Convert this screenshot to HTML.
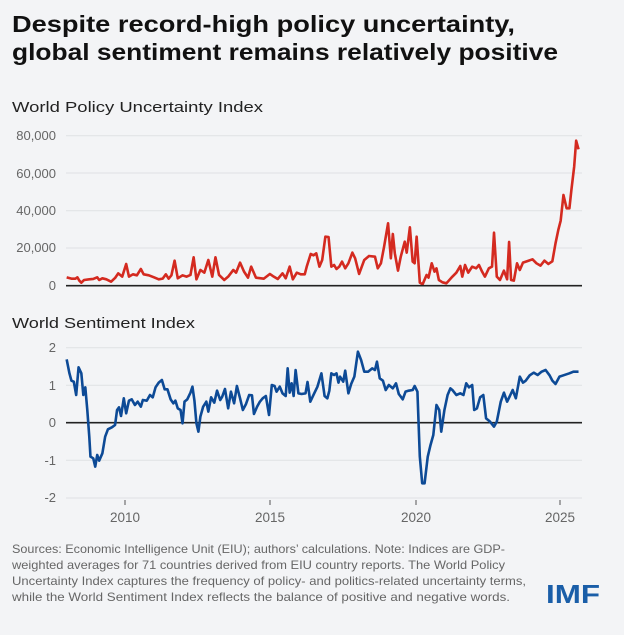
<!DOCTYPE html>
<html><head><style>
body{margin:0;background:#f3f4f6;width:624px;height:630px;overflow:hidden;font-family:"Liberation Sans",sans-serif}
</style></head><body>
<svg width="624" height="630" xmlns="http://www.w3.org/2000/svg" font-family="Liberation Sans, sans-serif">
<rect width="624" height="630" fill="#f3f4f6"/>
<text x="12" y="32" font-size="23.5" font-weight="bold" fill="#111" textLength="503" lengthAdjust="spacingAndGlyphs">Despite record-high policy uncertainty,</text>
<text x="12" y="60" font-size="23.5" font-weight="bold" fill="#111" textLength="546" lengthAdjust="spacingAndGlyphs">global sentiment remains relatively positive</text>
<text x="12" y="112" font-size="15" fill="#222" textLength="251" lengthAdjust="spacingAndGlyphs">World Policy Uncertainty Index</text>
<g stroke="#dfe1e4" stroke-width="1">
<line x1="66" x2="582" y1="135.7" y2="135.7"/><line x1="66" x2="582" y1="173" y2="173"/><line x1="66" x2="582" y1="210.7" y2="210.7"/><line x1="66" x2="582" y1="248" y2="248"/>
<line x1="66" x2="582" y1="347.7" y2="347.7"/><line x1="66" x2="582" y1="385.3" y2="385.3"/><line x1="66" x2="582" y1="460.3" y2="460.3"/><line x1="66" x2="582" y1="498" y2="498"/>
</g>
<g font-size="13" fill="#666" text-anchor="end">
<text x="56" y="140">80,000</text><text x="56" y="178">60,000</text><text x="56" y="215">40,000</text><text x="56" y="252">20,000</text><text x="56" y="290">0</text>
<text x="56" y="352">2</text><text x="56" y="390">1</text><text x="56" y="427">0</text><text x="56" y="465">-1</text><text x="56" y="502">-2</text>
</g>
<g transform="translate(0,90) scale(0.3968,0.3333)">
<polyline fill="none" stroke="#d42a20" stroke-width="2.6" vector-effect="non-scaling-stroke" stroke-linejoin="round" points="168,562 180,566 190,566 195,562 200,572 205,578 212,570 225,568 235,567 245,562 250,570 258,565 268,568 280,575 290,564 298,550 308,560 318,522 325,560 335,553 345,556 355,537 362,553 375,556 388,562 400,568 410,566 418,553 425,566 432,556 440,512 448,565 460,556 470,560 480,555 488,502 495,568 505,540 515,548 525,510 535,560 543,502 552,555 565,570 575,560 588,540 595,548 605,518 615,545 625,563 633,530 645,563 665,566 680,552 690,560 700,567 712,550 720,565 730,530 738,568 748,548 758,553 768,553 773,530 783,492 790,496 797,490 805,530 812,510 820,440 828,441 835,530 842,525 848,537 855,530 862,515 870,535 878,520 888,488 895,505 905,552 918,510 930,498 945,500 952,535 960,520 968,470 978,400 985,505 990,432 995,490 1003,542 1010,500 1020,455 1025,488 1033,412 1040,515 1045,520 1050,440 1058,578 1065,583 1075,555 1080,563 1088,520 1095,545 1100,535 1106,570 1115,577 1125,580 1140,560 1150,548 1160,528 1165,560 1172,525 1180,548 1190,530 1200,535 1207,525 1215,545 1222,560 1232,535 1240,530 1245,428 1252,560 1260,570 1270,542 1278,568 1283,456 1288,570 1295,572 1303,520 1310,540 1318,518 1330,513 1342,508 1352,520 1362,527 1372,512 1382,522 1392,514 1400,460 1407,420 1413,392 1420,315 1428,355 1435,355 1440,300 1447,230 1452,152 1458,178"/>
</g>
<line x1="66" x2="582" y1="285.7" y2="285.7" stroke="#222" stroke-width="1.6"/>
<text x="12" y="328" font-size="15" fill="#222" textLength="183" lengthAdjust="spacingAndGlyphs">World Sentiment Index</text>
<line x1="66" x2="582" y1="422.7" y2="422.7" stroke="#222" stroke-width="1.6"/>
<g transform="translate(0,310) scale(0.3968,0.3333)">
<polyline fill="none" stroke="#0d4a96" stroke-width="2.6" vector-effect="non-scaling-stroke" stroke-linejoin="round" points="168,148 175,190 180,212 186,215 192,255 198,172 205,190 210,255 215,232 220,300 225,380 228,440 235,445 240,470 245,435 250,452 258,430 265,380 272,358 282,352 290,345 295,300 300,292 305,318 312,265 318,310 325,272 332,268 340,285 347,275 355,290 360,270 370,272 378,255 385,262 392,232 400,218 408,210 415,238 422,238 430,268 437,280 442,272 448,295 455,300 460,340 465,275 472,268 480,248 485,230 490,272 495,340 500,365 505,320 512,290 520,275 525,305 532,262 540,278 547,242 555,270 560,260 567,237 575,295 582,245 590,280 597,228 605,265 612,300 620,282 628,255 635,256 640,312 648,290 655,275 662,265 670,258 678,315 685,225 692,228 697,245 705,230 712,250 720,258 725,175 730,248 735,220 740,258 745,180 752,250 760,252 770,250 775,216 782,275 790,255 800,230 810,190 818,258 825,265 830,242 835,190 842,195 848,190 853,218 857,200 865,215 870,182 878,250 885,222 893,200 902,125 910,150 918,185 928,185 938,175 945,180 950,155 957,205 965,212 972,240 980,225 990,235 998,220 1005,252 1015,268 1022,245 1030,242 1040,240 1045,228 1052,245 1058,440 1064,520 1070,520 1078,440 1085,405 1092,375 1100,285 1107,300 1112,365 1120,300 1128,255 1135,235 1140,240 1150,255 1160,250 1168,255 1175,220 1182,232 1190,225 1195,300 1202,295 1210,262 1218,255 1225,325 1235,335 1245,350 1252,335 1262,275 1270,248 1278,275 1285,258 1292,240 1300,265 1310,200 1318,218 1325,212 1335,196 1345,188 1355,195 1365,185 1375,180 1385,196 1392,212 1400,222 1410,200 1420,196 1435,190 1445,185 1458,185"/>
</g>
<g stroke="#555" stroke-width="1"><line x1="125" x2="125" y1="500" y2="505"/><line x1="270" x2="270" y1="500" y2="505"/><line x1="416" x2="416" y1="500" y2="505"/><line x1="560" x2="560" y1="500" y2="505"/></g>
<g font-size="13.5" fill="#666" text-anchor="middle"><text x="125" y="522">2010</text><text x="270" y="522">2015</text><text x="416" y="522">2020</text><text x="560" y="522">2025</text></g>
<g font-size="12" fill="#666" lengthAdjust="spacingAndGlyphs">
<text x="12" y="553" textLength="493" lengthAdjust="spacingAndGlyphs">Sources: Economic Intelligence Unit (EIU); authors’ calculations. Note: Indices are GDP-</text>
<text x="12" y="569" textLength="493" lengthAdjust="spacingAndGlyphs">weighted averages for 71 countries derived from EIU country reports. The World Policy</text>
<text x="12" y="585" textLength="514" lengthAdjust="spacingAndGlyphs">Uncertainty Index captures the frequency of policy- and politics-related uncertainty terms,</text>
<text x="12" y="601" textLength="498" lengthAdjust="spacingAndGlyphs">while the World Sentiment Index reflects the balance of positive and negative words.</text>
</g>
<text x="546" y="603" font-size="26" font-weight="bold" fill="#1a5ea8" textLength="54" lengthAdjust="spacingAndGlyphs">IMF</text>
</svg>
</body></html>
